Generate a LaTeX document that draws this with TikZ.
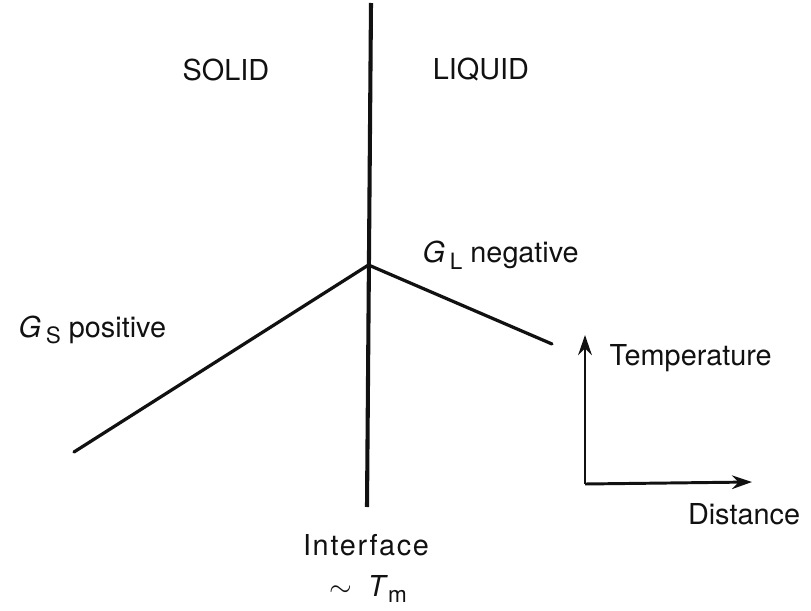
\documentclass[tikz,border=0pt]{standalone}
\usepackage{fontspec}
\setmainfont{TeX Gyre Heros}
\usetikzlibrary{arrows.meta,positioning}
\definecolor{ink}{HTML}{111111}
\tikzset{
  lbl/.style={font=\fontsize{20.5}{24}\selectfont, text=ink, inner sep=1pt},
  iface/.style={line width=2.9pt, draw=ink},
  grad/.style={line width=2.3pt, draw=ink, line cap=round},
  axis/.style={-{Stealth[length=5mm,width=3.4mm]}, line width=2.1pt, draw=ink},
}
\newcommand{\sub}[1]{\raisebox{-0.45ex}{\fontsize{16}{18}\selectfont #1}}
\begin{document}
\begin{tikzpicture}[x=0.025cm, y=-0.025cm]
    \useasboundingbox (0,0) rectangle (811,611);
    % interface and temperature profile
    \coordinate (top) at (371,3);
    \coordinate (bot) at (367,507);
    \coordinate (j) at (368.5,265);
    \coordinate (se) at (74,452);
    \coordinate (le) at (552,344);
    \draw[iface] (top)--(bot);
    \draw[grad] (se)--(j)--(le);
    % labels
    \node[lbl] (sol) at (226,70) {SOLID};
    \node[lbl] (liq) at (481,70) {LIQUID};
    \node[lbl, anchor=west] (gs) at (17,330) {\textit{G}\,\sub{S} positive};
    \node[lbl, anchor=west] (gl) at (421,255) {\textit{G}\,\sub{L} negative};
    \node[lbl] (if) at (366,545) {\addfontfeature{LetterSpace=6}Interface};
    \node[lbl] (tm) at (368,589) {$\sim$\ \ \textit{T}\sub{m}};
    % axes
    \coordinate (o) at (585,484);
    \coordinate (ty) at (585,335);
    \coordinate (dx) at (752,482);
    \draw[axis] (o)--(ty);
    \draw[axis] (o)--(dx);
    \node[lbl, anchor=west] (temp) at (608,358) {Temperature};
    \node[lbl] (dist) at (744,514) {Distance};
\end{tikzpicture}
\end{document}
